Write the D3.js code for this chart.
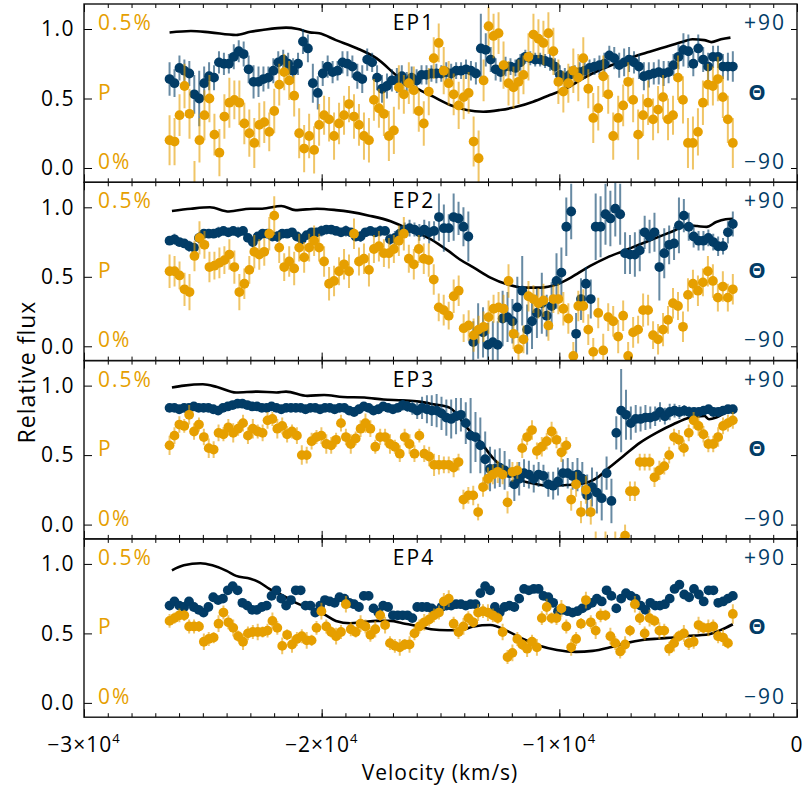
<!DOCTYPE html>
<html>
<head>
<meta charset="utf-8">
<script src="https://cdn.jsdelivr.net/npm/d3@7"></script>
<style>
  body { margin: 0; background: #fff; }
  svg { display: block; font-family: "Open Sans", "DejaVu Sans", sans-serif; }
</style>
</head>
<body>
<svg id="chart" width="805" height="789"></svg>
<script>
// binned data run from vStart to vEnd (km/s), evenly spaced
const vStart = -26400, vEnd = -2700;

// P and Theta are given in flux-axis units x100 (0 -> 0% / -90 deg, 100 -> 0.5% / +90 deg)
// errors are half-lengths of the bars, same units
const ep1P = [20,19,38,59,39,-15,20,38,50,24,11,37,47,49,47,32,25,18,31,33,26,41,60,69,63,52,25,14,23,13,31,38,35,23,32,38,46,37,31,23,20,49,43,39,23,
  27,58,53,61,56,41,32,55,79,90,70,61,53,45,51,54,19,7,63,102,95,97,74,61,58,62,67,80,96,93,90,97,84,62,55,61,70,65,79,57,36,43,66,53,23,36,45,62,49,24,38,
  47,35,42,51,35,38,65,49,18,18,26,47,60,59,64,51,35,18];
const ep1PErr = [18,17,15,16,18,20,16,18,17,15,17,16,18,14,16,15,17,18,16,15,14,16,15,13,14,15,18,17,16,17,15,14,16,17,15,14,13,16,15,17,16,15,14,16,18,
  17,16,14,15,17,15,16,17,15,14,17,16,15,17,16,15,18,20,15,14,16,15,17,16,15,16,14,17,15,14,16,15,17,16,15,14,16,17,15,14,18,16,15,14,17,16,15,14,16,18,15,
  16,15,17,16,15,14,16,17,18,19,17,16,15,14,16,15,17,18];
const ep1Theta = [64,61,72,70,68,53,50,61,66,65,76,75,75,80,84,82,71,62,62,64,65,70,76,78,75,70,75,91,86,61,54,68,73,69,70,76,75,73,66,64,78,76,65,57,59,
  63,63,66,62,65,63,67,67,68,68,68,69,68,70,70,71,70,68,86,85,78,71,69,73,73,72,76,80,79,78,78,77,76,73,67,65,67,68,69,70,72,73,74,75,81,79,74,76,78,76,73,66,
  67,68,69,68,69,74,80,85,84,75,86,78,73,80,80,73,73,73];
const ep1ThetaErr = [12,10,9,8,9,14,20,12,10,9,8,8,7,9,8,9,10,12,11,9,8,9,8,7,8,9,8,9,10,14,12,9,8,8,7,8,9,8,9,10,8,7,9,10,9,
  8,9,8,7,8,8,7,7,6,7,6,7,7,6,6,7,7,8,25,12,9,8,7,7,6,6,6,5,5,5,5,5,6,6,7,7,6,6,7,6,6,6,7,8,7,8,9,10,9,8,9,10,
  9,8,9,9,8,8,9,12,12,9,10,9,10,8,8,9,10,11];

const ep2P = [54,54,51,41,39,65,78,73,57,58,60,62,66,57,39,45,55,68,66,68,81,94,71,57,61,56,71,64,71,76,71,61,45,47,54,59,54,81,61,63,55,70,72,67,67,70,76,81,63,59,70,63,62,48,
  28,26,22,36,40,13,15,8,12,14,21,27,28,27,47,9,-2,5,36,34,31,33,15,34,34,27,20,-7,29,29,12,-4,24,-3,21,18,7,22,-7,10,12,26,26,8,5,12,19,31,29,14,37,45,40,46,54,47,35,43,35,41];
const ep2PErr = [12,11,10,12,13,11,12,10,11,10,11,10,11,12,13,11,10,12,11,10,12,14,11,10,11,12,10,11,10,11,10,11,12,11,10,11,12,11,10,11,12,10,11,10,11,10,11,12,10,11,10,11,12,11,
  10,11,10,12,11,10,11,12,10,11,12,10,11,10,12,11,12,10,11,10,11,12,11,10,11,12,11,10,11,12,11,10,11,12,10,11,12,11,10,11,10,12,11,10,11,12,10,11,10,11,12,10,11,10,11,12,10,11,10,11];
const ep2Theta = [76,77,75,74,72,71,78,81,81,81,82,83,82,83,82,83,78,75,79,81,81,79,79,81,81,82,79,77,80,82,82,83,84,84,83,82,83,82,79,79,82,83,82,83,83,77,78,81,84,85,84,82,84,82,83,93,
  85,85,93,92,86,79,3,11,10,1,3,1,20,21,18,28,40,12,18,24,31,22,29,47,53,86,97,9,34,45,34,86,86,95,92,99,95,67,66,66,69,82,79,82,57,67,73,74,87,94,86,79,76,76,78,75,72,72,82,88];
const ep2ThetaErr = [3,4,3,3,4,3,4,3,3,3,4,3,3,3,4,3,3,4,3,3,3,3,4,3,3,3,3,4,3,3,3,4,3,3,3,3,4,3,3,4,3,3,3,4,3,4,5,6,5,6,5,6,7,8,7,17,
  17,10,17,12,14,18,15,20,18,16,15,17,20,18,16,22,25,18,20,18,22,15,17,20,18,21,20,15,15,12,14,24,22,22,20,20,22,15,14,16,15,12,12,14,24,18,14,12,20,12,10,8,7,7,6,6,7,6,8,9];

const ep3P = [57,64,72,71,79,67,72,63,55,54,66,65,70,66,69,73,64,69,67,66,75,76,69,71,65,67,64,50,50,60,63,64,58,57,61,73,63,58,62,69,73,69,56,63,63,58,56,51,63,58,51,64,51,49,43,
  43,43,43,41,45,18,21,21,9,27,33,36,38,36,16,38,39,55,63,68,53,56,60,67,61,52,57,18,29,9,25,9,-15,-20,-15,-20,-15,-18,-8,24,24,45,45,45,34,39,42,50,63,61,55,66,75,71,65,58,58,63,71,73,75];
const ep3PErr = [7,6,6,5,7,6,5,6,7,6,6,5,6,7,5,6,6,7,5,6,6,5,7,6,6,5,6,7,6,6,5,6,7,6,5,6,6,7,5,6,7,6,5,6,6,7,5,6,6,7,6,5,6,7,8,
  7,6,6,7,6,7,6,7,6,7,8,7,8,7,8,7,6,7,6,7,6,7,6,7,6,7,6,8,9,8,10,9,10,9,10,9,10,9,8,7,7,6,6,6,7,7,6,6,6,7,6,6,6,7,6,6,6,7,6,6,6];
const ep3Theta = [84,84,83,84,84,85,84,84,84,83,82,84,85,86,87,87,86,85,85,84,84,85,84,83,84,84,84,84,83,84,84,83,84,84,83,84,84,82,81,83,85,84,82,83,85,84,83,84,86,85,84,82,84,83,82,82,
  80,77,76,78,79,73,64,63,57,47,40,40,41,39,37,29,33,37,36,33,36,35,29,28,31,37,37,35,36,33,21,27,23,19,37,17,66,82,79,73,76,76,77,77,78,81,78,81,82,81,82,81,81,81,82,83,81,81,82,83,83];
const ep3ThetaErr = [2,2,2,2,2,2,2,2,2,2,2,2,2,2,2,2,2,2,2,2,2,2,2,2,2,2,2,2,2,2,2,2,2,2,2,2,2,2,2,2,2,2,2,2,2,2,3,3,4,4,5,6,8,10,11,12,
  12,13,14,13,12,15,27,18,20,20,16,14,14,14,10,12,12,10,10,10,9,8,9,10,10,10,11,10,12,12,15,14,15,16,12,16,12,30,18,12,10,9,9,8,7,7,6,6,5,5,4,4,3,3,3,3,3,2,2,2,2];

const ep4P = [59,61,63,63,55,55,55,44,46,47,57,65,58,54,48,44,50,51,51,51,52,59,54,41,49,42,46,48,45,45,54,66,55,51,48,51,71,53,51,57,55,49,53,63,56,43,41,40,42,42,50,55,58,60,63,
  65,73,75,57,51,55,61,58,65,66,65,63,61,51,33,36,46,42,39,44,40,61,69,61,61,68,55,40,46,57,74,58,52,63,63,48,43,37,42,52,71,61,50,61,59,52,52,39,43,48,50,43,44,56,54,54,55,48,47,43,64];
const ep4PErr = [5,4,5,4,5,5,4,6,5,4,6,5,5,6,4,6,5,5,6,4,5,6,5,6,4,6,5,5,6,4,5,6,5,4,6,5,6,5,4,6,5,5,6,4,6,5,5,6,4,6,5,5,6,5,5,
  5,6,6,5,5,6,5,4,6,5,6,5,4,6,5,6,5,4,6,5,6,5,6,4,5,6,5,6,5,4,6,5,6,5,4,6,5,5,6,4,6,5,5,6,4,6,5,5,6,4,6,5,5,6,4,6,5,5,6,4,7];
const ep4Theta = [70,73,70,69,73,69,67,65,69,76,74,75,81,84,81,72,70,67,67,69,70,77,81,75,70,74,81,81,70,70,65,70,74,73,72,76,75,72,71,69,77,77,68,65,70,69,63,63,63,63,61,69,69,69,68,66,
  69,70,70,71,71,70,71,71,79,84,81,69,65,69,70,69,75,82,81,82,82,77,76,72,66,67,66,65,66,68,70,72,75,73,81,77,68,75,79,77,75,70,67,72,70,70,71,75,82,85,78,76,82,78,73,81,81,72,73,75,77];
const ep4ThetaErr = 2;

// model line: velocity (km/s) and relative flux
const ep1LineV = [-26400,-25500,-24700,-23600,-23000,-22500,-21500,-21000,-20500,-20100,-19400,-18500,-17700,-16700,-16000,-15300,-14600,-13900,-13200,-12500,-11800,-11100,-10400,-9700,-9000,-8300,-7600,-6900,-6200,-5500,-4800,-4400,-3900,-3600,-3200,-2800];
const ep1LineFlux = [0.975,0.986,0.976,0.957,0.98,0.993,1.01,1.0,0.976,0.969,0.92,0.86,0.79,0.645,0.573,0.513,0.453,0.417,0.405,0.417,0.44,0.477,0.525,0.573,0.645,0.705,0.753,0.80,0.837,0.873,0.909,0.926,0.92,0.906,0.926,0.938];
const ep2LineV = [-26300,-25500,-24700,-23900,-23000,-22500,-21700,-21100,-20200,-19400,-18800,-18000,-17100,-16300,-15400,-14700,-14200,-13600,-12900,-12200,-11500,-10800,-10100,-9400,-8700,-8000,-7300,-6600,-5900,-5200,-4600,-4200,-3800,-3400,-3000,-2700];
const ep2LineFlux = [0.974,0.99,1.0,0.97,0.99,0.99,1.01,0.98,0.99,0.98,0.967,0.94,0.90,0.84,0.77,0.69,0.626,0.566,0.494,0.446,0.422,0.422,0.446,0.506,0.578,0.638,0.686,0.734,0.782,0.83,0.87,0.865,0.859,0.894,0.914,0.918];
const ep3LineV = [-26300,-25800,-25000,-24400,-23600,-22700,-21900,-21500,-20600,-19900,-19100,-18200,-17400,-16600,-15900,-15300,-14600,-13900,-13300,-12800,-12200,-11700,-11100,-10400,-9700,-9000,-8400,-7900,-7300,-6600,-5900,-5200,-4500,-3900,-3700,-3400,-3000,-2600];
const ep3LineFlux = [0.986,1.0,1.01,0.99,0.95,0.957,0.95,0.957,0.926,0.933,0.918,0.914,0.90,0.894,0.885,0.866,0.84,0.70,0.59,0.48,0.386,0.326,0.295,0.278,0.285,0.295,0.338,0.41,0.494,0.59,0.662,0.722,0.77,0.782,0.758,0.77,0.806,0.83];
const ep4LineV = [-26300,-25800,-25100,-24600,-24000,-23600,-23000,-22600,-22200,-21600,-21100,-20500,-19900,-19400,-18800,-18200,-17700,-17100,-16600,-16000,-15400,-14700,-14200,-13600,-12900,-12200,-11500,-10800,-10100,-9300,-8600,-7900,-7200,-6500,-5800,-5200,-4600,-4100,-3700,-3200,-2700];
const ep4LineFlux = [0.954,0.99,1.005,0.99,0.95,0.914,0.894,0.866,0.82,0.77,0.722,0.68,0.638,0.59,0.573,0.583,0.59,0.59,0.573,0.554,0.53,0.523,0.523,0.55,0.56,0.518,0.458,0.41,0.381,0.367,0.374,0.398,0.43,0.453,0.463,0.47,0.482,0.487,0.494,0.525,0.566];

const panelNames = ['EP1', 'EP2', 'EP3', 'EP4'];
const xMajor = [-30000, -20000, -10000, 0];
const xMajorLabels = [['\u22123\u00d710', '4'], ['\u22122\u00d710', '4'], ['\u22121\u00d710', '4'], ['0', '']];

const panels = [
  {p: ep1P, pErr: ep1PErr, t: ep1Theta, tErr: ep1ThetaErr, lv: ep1LineV, lf: ep1LineFlux},
  {p: ep2P, pErr: ep2PErr, t: ep2Theta, tErr: ep2ThetaErr, lv: ep2LineV, lf: ep2LineFlux},
  {p: ep3P, pErr: ep3PErr, t: ep3Theta, tErr: ep3ThetaErr, lv: ep3LineV, lf: ep3LineFlux},
  {p: ep4P, pErr: ep4PErr, t: ep4Theta, tErr: ep4ThetaErr, lv: ep4LineV, lf: ep4LineFlux}
];

//layout
const left = 84, right = 797, top0 = 4, panelH = 178.3;
const orange = '#E69F00', navy = '#023c66';
const fs = 21;

const svg = d3.select('#chart');
const x = d3.scaleLinear().domain([-30000, 0]).range([left, right]);

function drawSeries(sel, vals, errs, color, y) {
  const pos = d3.scaleLinear().domain([0, vals.length - 1]).range([vStart, vEnd]);
  const pts = vals.map((v, i) => ({
    v: pos(i),
    f: v / 100,
    e: (Array.isArray(errs) ? errs[i] : errs) / 100
  }));
  sel.append('g').selectAll('line').data(pts).join('line')
    .attr('x1', d => x(d.v)).attr('x2', d => x(d.v))
    .attr('y1', d => y(d.f - d.e)).attr('y2', d => y(d.f + d.e))
    .attr('stroke', color).attr('stroke-opacity', 0.6).attr('stroke-width', 2);
  sel.append('g').selectAll('circle').data(pts).join('circle')
    .attr('cx', d => x(d.v)).attr('cy', d => y(d.f)).attr('r', 4.9)
    .attr('fill', color);
}

panels.forEach((pn, k) => {
  const top = top0 + k * panelH, bottom = top + panelH;
  const y = d3.scaleLinear().domain([-0.103, 1.18]).range([bottom, top]);
  const theta = d3.scaleLinear().domain([-90, 90]).range([y(0), y(1)]);

  svg.append('clipPath').attr('id', 'clip' + k)
    .append('rect').attr('x', left).attr('y', top).attr('width', right - left).attr('height', panelH);

  const plot = svg.append('g').attr('clip-path', `url(#clip${k})`);

  //model line
  plot.append('path')
    .datum(d3.zip(pn.lv, pn.lf))
    .attr('d', d3.line().x(d => x(d[0])).y(d => y(d[1])).curve(d3.curveMonotoneX))
    .attr('fill', 'none').attr('stroke', '#000').attr('stroke-width', 2.6);

  drawSeries(plot, pn.t, pn.tErr, navy, y);
  drawSeries(plot, pn.p, pn.pErr, orange, y);

  //ticks along x, top and bottom, pointing inward
  const minor = d3.range(-30000, 1, 1000);
  [[d3.axisTop, bottom], [d3.axisBottom, top]].forEach(([ax, yy]) => {
    svg.append('g').attr('transform', `translate(0,${yy})`)
      .call(ax(x).tickValues(minor).tickSize(4).tickFormat(''))
      .call(g => g.select('.domain').remove());
    svg.append('g').attr('transform', `translate(0,${yy})`)
      .call(ax(x).tickValues(xMajor).tickSize(8).tickFormat(''))
      .call(g => g.select('.domain').remove());
  });

  //left axis
  svg.append('g').attr('transform', `translate(${left},0)`)
    .call(d3.axisLeft(y).tickValues([0, 0.5, 1]).tickSizeInner(-8).tickSizeOuter(0).tickPadding(9).tickFormat(d3.format('.1f')))
    .call(g => g.select('.domain').remove())
    .call(g => g.selectAll('text').attr('font-size', fs).attr('font-family', '"Open Sans", sans-serif').attr('letter-spacing', 1.5).attr('fill', '#000'));

  //right axis (theta)
  svg.append('g').attr('transform', `translate(${right},0)`)
    .call(d3.axisLeft(theta).tickValues([-90, 0, 90]).tickSize(6).tickFormat(''))
    .call(g => g.select('.domain').remove());

  svg.append('rect').attr('x', left).attr('y', top).attr('width', right - left).attr('height', panelH)
    .attr('fill', 'none').attr('stroke', '#111').attr('stroke-width', 1.4);

  //inner labels
  const lab = (txt, xx, yy, col, anchor) => svg.append('text')
    .attr('x', xx).attr('y', yy).attr('fill', col).attr('text-anchor', anchor)
    .attr('font-size', fs).attr('letter-spacing', 2).text(txt);
  lab('0.5%', 98, y(1) + 1, orange, 'start');
  lab('P', 98, y(0.5) + 1, orange, 'start');
  lab('0%', 98, y(0) + 1, orange, 'start');
  lab('+90', 786, y(1) + 1, navy, 'end');
  lab('\u0398', 758, y(0.5) + 1, navy, 'middle').attr('font-weight', 'bold').attr('font-size', 22);
  lab('\u221290', 786, y(0) + 1, navy, 'end');
  lab(panelNames[k], 414, y(1) + 1, '#000', 'middle');
});

//x tick labels under the last panel
xMajor.forEach((v, i) => {
  const t = svg.append('text').attr('x', x(v)).attr('y', 752)
    .attr('text-anchor', 'middle').attr('font-size', fs).attr('letter-spacing', 1);
  t.append('tspan').text(xMajorLabels[i][0]);
  if (xMajorLabels[i][1]) {
    t.append('tspan').attr('dy', -9).attr('font-size', 13).text(xMajorLabels[i][1]);
  }
});

svg.append('text').attr('x', 440).attr('y', 780).attr('text-anchor', 'middle')
  .attr('font-size', fs).attr('letter-spacing', 1).text('Velocity (km/s)');

svg.append('text').attr('transform', 'translate(35,372) rotate(-90)')
  .attr('text-anchor', 'middle').attr('font-size', 23).attr('letter-spacing', 1).text('Relative flux');
</script>
</body>
</html>
